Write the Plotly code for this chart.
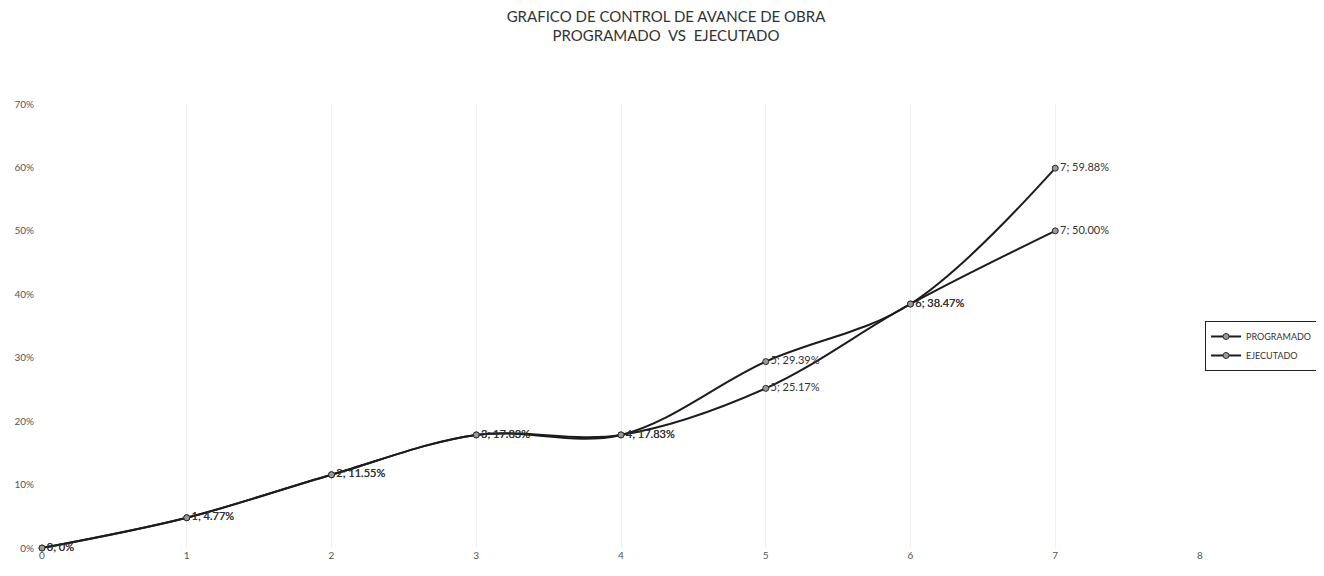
import plotly.graph_objects as go

weeks = [0, 1, 2, 3, 4, 5, 6, 7]
programado = [0.0, 4.77, 11.55, 17.83, 17.83, 25.17, 38.47, 50.00]
ejecutado = [0.0, 4.77, 11.55, 17.83, 17.83, 29.39, 38.47, 59.88]
x_ticks = [0, 1, 2, 3, 4, 5, 6, 7, 8]
y_ticks = [0, 0.1, 0.2, 0.3, 0.4, 0.5, 0.6, 0.7]
y_tick_text = ["0%", "10%", "20%", "30%", "40%", "50%", "60%", "70%"]

FONT = "Lato, Open Sans, sans-serif"


def labels(xs, vs):
    out = []
    for x, v in zip(xs, vs):
        out.append(f"{x}; 0%" if v == 0 else f"{x}; {v:.2f}%")
    return out


fig = go.Figure()
for name, vals in [("PROGRAMADO", programado), ("EJECUTADO", ejecutado)]:
    fig.add_trace(go.Scatter(
        x=weeks, y=[v / 100 for v in vals], name=name,
        mode="lines+markers+text",
        text=labels(weeks, vals), textposition="middle right",
        textfont=dict(size=11, color="#333333", family=FONT),
        line=dict(color="#1c1c1c", width=2, shape="spline", smoothing=1),
        marker=dict(symbol="circle", size=6, color="#9a9a9a",
                    line=dict(color="#2a2a2a", width=1)),
        cliponaxis=False,
    ))

fig.update_layout(
    width=1316, height=568,
    paper_bgcolor="white", plot_bgcolor="white",
    margin=dict(l=34, r=124, t=96, b=28, autoexpand=False),
    title=dict(text="GRAFICO DE CONTROL DE AVANCE DE OBRA<br>PROGRAMADO  VS  EJECUTADO",
               x=0.5, xanchor="center", y=0.976, yanchor="top",
               font=dict(size=15, color="#333333", family=FONT)),
    font=dict(family=FONT, color="#555"),
    showlegend=True,
    legend=dict(xref="container", x=0.9096, xanchor="left",
                y=0.455, yanchor="middle",
                bordercolor="#222", borderwidth=1, bgcolor="white",
                font=dict(size=9, color="#333", family=FONT), itemwidth=30,
                tracegroupgap=0),
)
fig.update_xaxes(range=[0, 8], tickvals=x_ticks, showgrid=True,
                 gridcolor="#f0f0f0", gridwidth=1, zeroline=False,
                 showline=False, tickfont=dict(size=10, color="#555"), ticks="",
                 automargin=False)
fig.update_yaxes(range=[0, 0.7], tickvals=y_ticks, ticktext=y_tick_text,
                 showgrid=False, zeroline=False, showline=False,
                 tickfont=dict(size=10, color="#555"), ticks="",
                 ticklabelstandoff=7, automargin=False)

fig.write_html("out.html")
